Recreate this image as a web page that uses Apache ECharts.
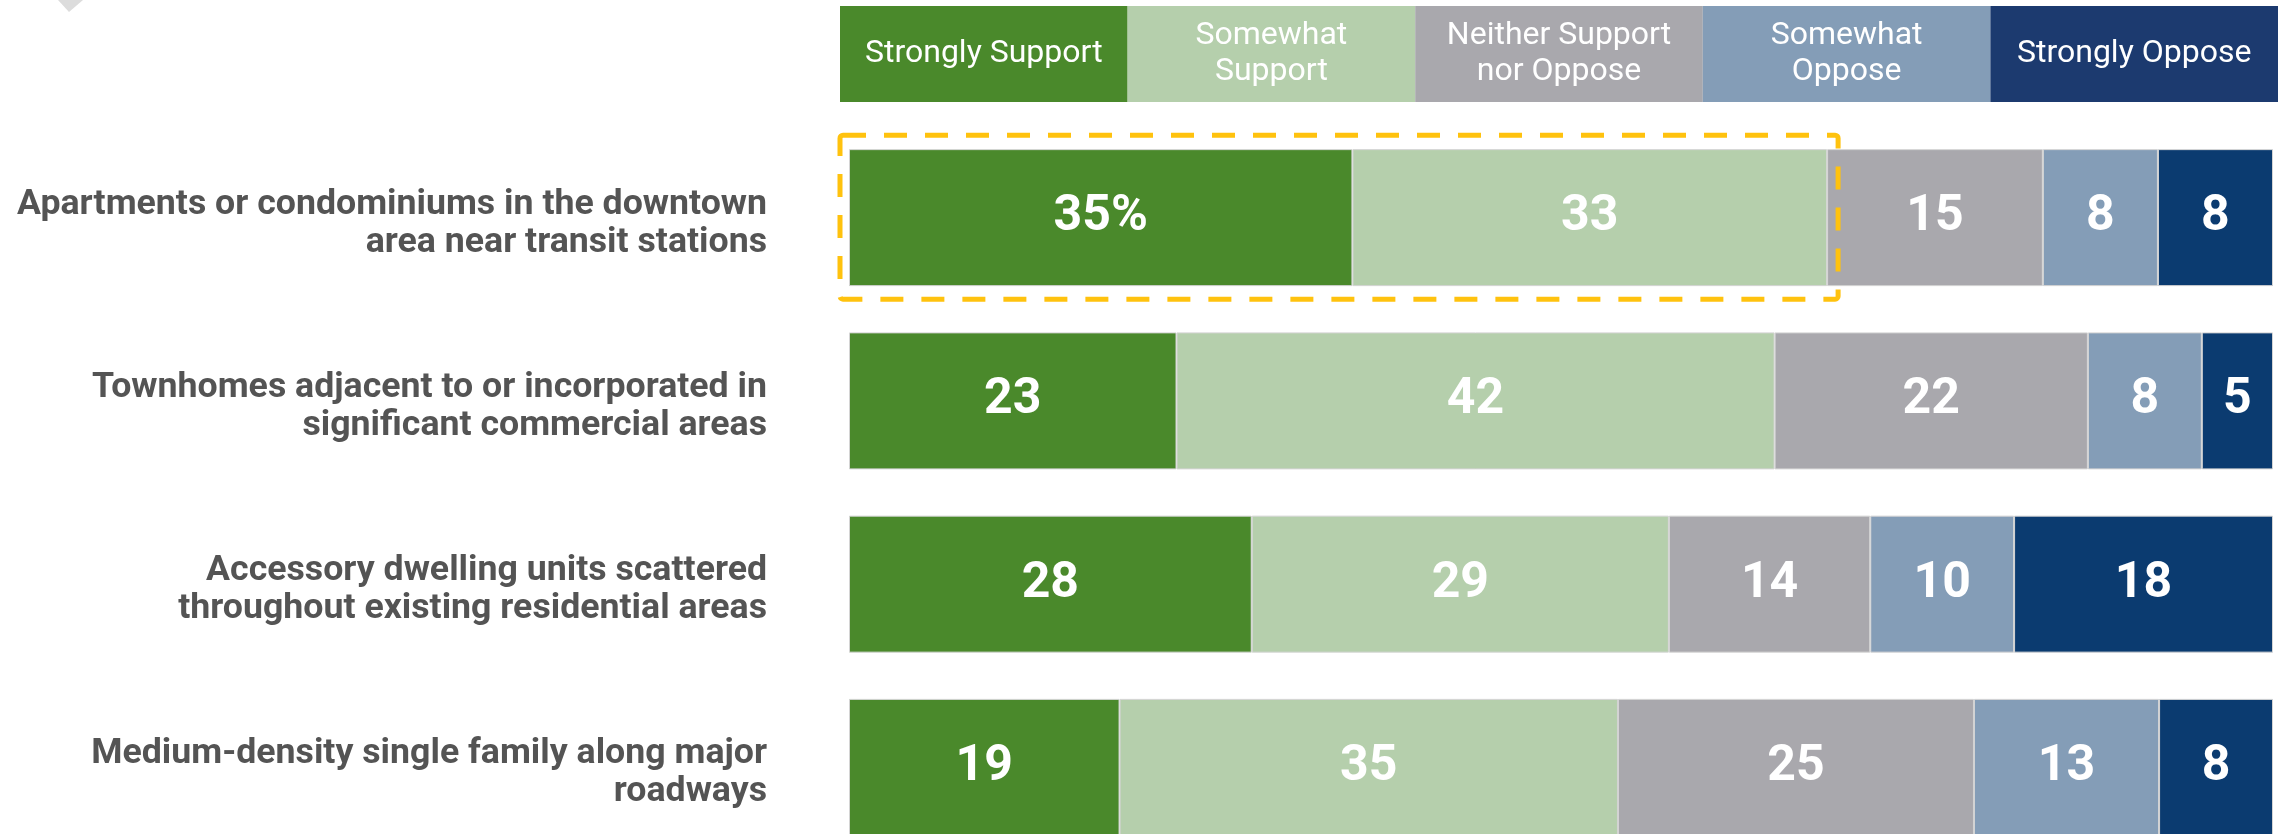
<!DOCTYPE html>
<html>
<head>
<meta charset="utf-8">
<script src="https://cdn.jsdelivr.net/npm/echarts@6/dist/echarts.min.js"></script>
<style>
  html, body { margin: 0; padding: 0; background: #fff; }
  #chart { width: 2287px; height: 834px; }
</style>
</head>
<body>
<div id="chart"></div>
<script>
// categories (top to bottom)
const categories = [
  'Apartments or condominiums in the downtown\narea near transit stations',
  'Townhomes adjacent to or incorporated in\nsignificant commercial areas',
  'Accessory dwelling units scattered\nthroughout existing residential areas',
  'Medium-density single family along major\nroadways'
]
// percent values per response
const stronglySupport = [35, 23, 28, 19]
const somewhatSupport = [33, 42, 29, 35]
const neither = [15, 22, 14, 25]
const somewhatOppose = [8, 8, 10, 13]
const stronglyOppose = [8, 5, 18, 8]
// header (legend) labels
const legendLabels = ['Strongly Support', 'Somewhat\nSupport', 'Neither Support\nnor Oppose', 'Somewhat\nOppose', 'Strongly Oppose']

const barColors = ['#4a892b', '#b5cfac', '#a9a8ad', '#849db7', '#0b3b70']
const headColors = ['#4a892b', '#b5cfac', '#a9a8ad', '#849db7', '#1c3a6f']
const groups = [stronglySupport, somewhatSupport, neither, somewhatOppose, stronglyOppose]

// each row fills the full width (rows sum to 99 or 100)
const rowTotals = categories.map((c, i) => groups.reduce((s, g) => s + g[i], 0))

const chart = echarts.init(document.getElementById('chart'))

const barSeries = groups.map((g, k) => ({
  type: 'bar',
  name: legendLabels[k],
  stack: 'row',
  xAxisIndex: 0,
  yAxisIndex: 0,
  barWidth: 137,
  itemStyle: { color: barColors[k], borderColor: '#d4d4d4', borderWidth: 1 },
  label: {
    show: true,
    position: 'inside',
    color: '#fff',
    fontFamily: 'Roboto',
    fontWeight: 'bold',
    fontSize: 50,
    formatter: p => (k === 0 && p.dataIndex === 0) ? p.data.raw + '%' : p.data.raw
  },
  data: g.map((v, i) => ({ value: v / rowTotals[i] * 100, raw: v }))
}))

const headSeries = legendLabels.map((name, k) => ({
  type: 'bar',
  name: 'head' + k,
  stack: 'head',
  xAxisIndex: 1,
  yAxisIndex: 1,
  barWidth: '100%',
  itemStyle: { color: headColors[k] },
  label: {
    show: true,
    position: 'inside',
    color: '#fff',
    fontFamily: 'Roboto',
    fontSize: 32,
    lineHeight: 36,
    formatter: name
  },
  data: [1]
}))

const option = {
  animation: false,
  backgroundColor: '#fff',
  grid: [
    { left: 849, right: 14, top: 126, bottom: -25, outerBoundsMode: 'none' },
    { left: 840, width: 1438, top: 6, height: 96, outerBoundsMode: 'none' }
  ],
  xAxis: [
    { type: 'value', gridIndex: 0, min: 0, max: 100, show: false },
    { type: 'value', gridIndex: 1, min: 0, max: 5, show: false }
  ],
  yAxis: [
    {
      type: 'category',
      gridIndex: 0,
      inverse: true,
      data: categories,
      axisLine: { show: false },
      axisTick: { show: false },
      splitLine: { show: false },
      axisLabel: {
        margin: 82,
        align: 'right',
        // small spacer line on top nudges the two text lines down a bit
        formatter: v => '{s|}\n' + v.split('\n').map(s => '{t|' + s + '}').join('\n'),
        rich: {
          s: { lineHeight: 12, fontSize: 1 },
          t: {
            color: '#545454',
            fontFamily: 'Roboto',
            fontWeight: 'bold',
            fontSize: 35.7,
            lineHeight: 38,
            align: 'right'
          }
        }
      }
    },
    { type: 'category', gridIndex: 1, data: ['head'], show: false }
  ],
  series: [...barSeries, ...headSeries]
}
chart.setOption(option)

// dashed highlight around the support share of the first row
const p0 = chart.convertToPixel({ xAxisIndex: 0, yAxisIndex: 0 }, [0, 0])
const p1 = chart.convertToPixel({ xAxisIndex: 0, yAxisIndex: 0 },
  [(stronglySupport[0] + somewhatSupport[0]) / rowTotals[0] * 100, 0])
const half = 137 / 2
chart.setOption({
  graphic: [
    {
      type: 'rect',
      shape: { x: p0[0] - 9, y: p0[1] - half - 14, width: p1[0] - p0[0] + 20, height: 137 + 27, r: 3 },
      style: { fill: 'none', stroke: '#ffc20e', lineWidth: 5, lineDash: [23, 18] },
      z: 100
    },
    {
      type: 'polygon',
      shape: { points: [[58, 0], [83, 0], [69, 12]] },
      style: { fill: '#dcdcdc' }
    }
  ]
})
</script>
</body>
</html>
